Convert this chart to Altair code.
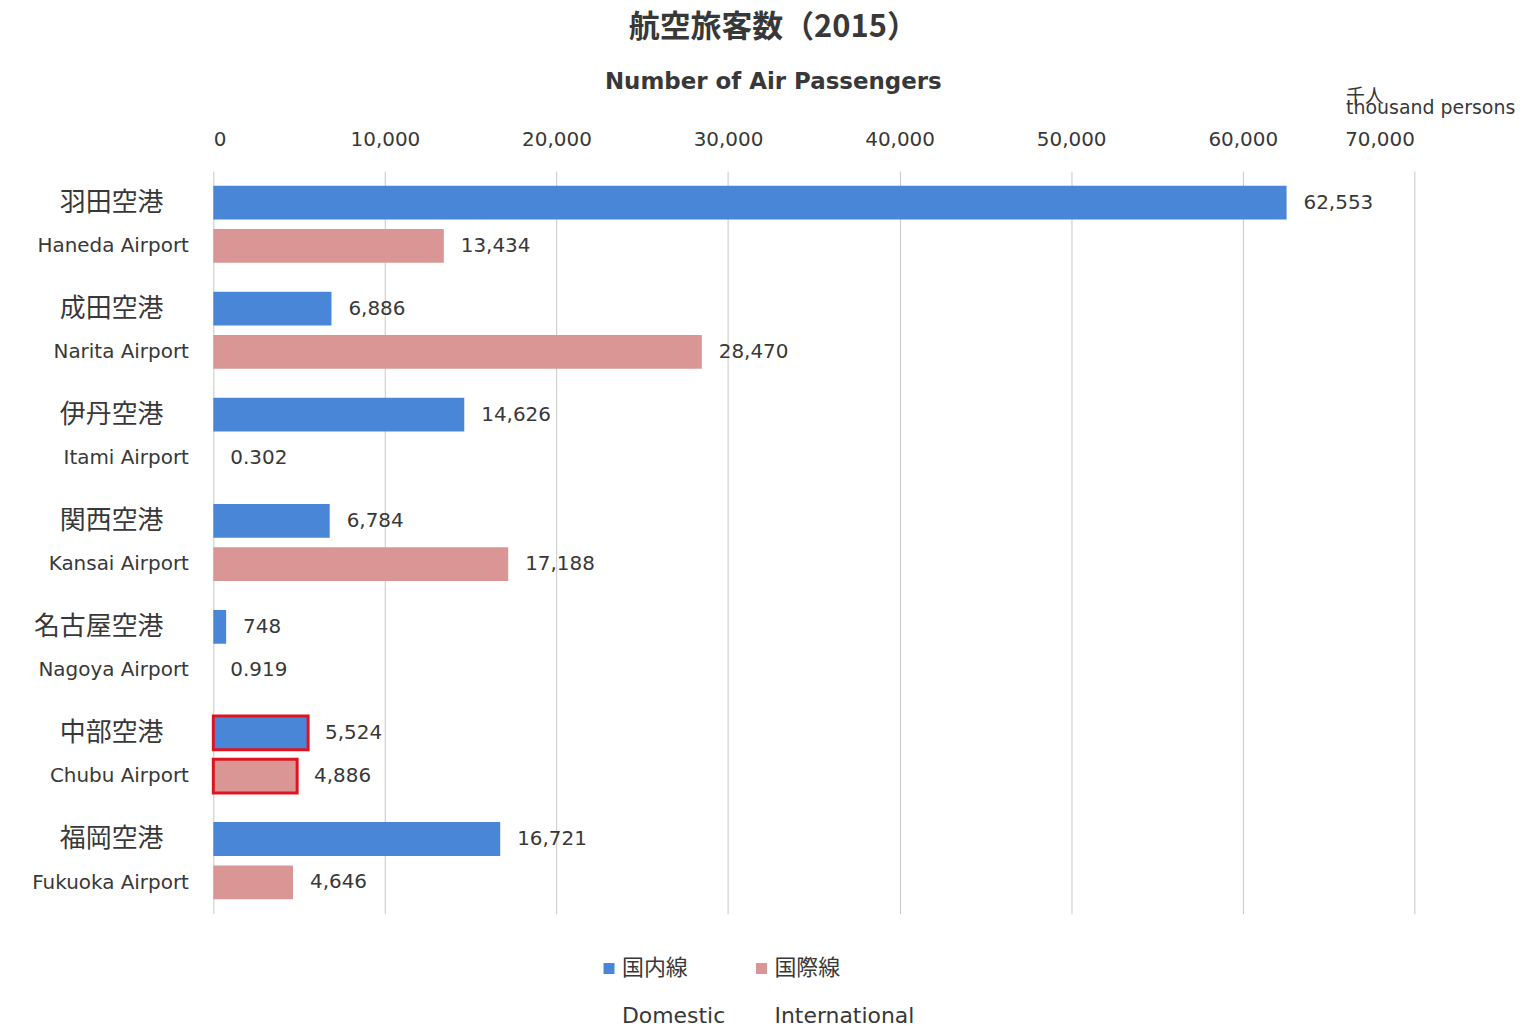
import altair as alt
import pandas as pd

airports_jp = ["羽田空港", "成田空港", "伊丹空港", "関西空港", "名古屋空港", "中部空港", "福岡空港"]
airports_en = ["Haneda Airport", "Narita Airport", "Itami Airport", "Kansai Airport",
               "Nagoya Airport", "Chubu Airport", "Fukuoka Airport"]
domestic = [62553, 6886, 14626, 6784, 748, 5524, 16721]
international = [13434, 28470, 0.302, 17188, 0.919, 4886, 4646]
series_en = ["Domestic", "International"]
series_jp = ["国内線", "国際線"]
series_colors = ["#4A86D8", "#D99694"]
x_ticks = [0, 10000, 20000, 30000, 40000, 50000, 60000, 70000]
highlight = "Chubu Airport"

rows = []
for jp, en, d, i in zip(airports_jp, airports_en, domestic, international):
    rows.append({"jp": jp, "en": en, "series": series_en[0], "value": d})
    rows.append({"jp": jp, "en": en, "series": series_en[1], "value": i})
df = pd.DataFrame(rows)

FONT = "'DejaVu Sans', 'Noto Sans CJK JP', sans-serif"
JFONT = "'Noto Sans CJK JP', sans-serif"
TXT = "#383838"

y_enc = alt.Y("en:N", sort=airports_en,
              scale=alt.Scale(paddingInner=0.2, paddingOuter=0.1),
              axis=alt.Axis(title=None, ticks=False, domain=False, grid=False,
                            labelAlign="right", labelPadding=25, labelOffset=22,
                            labelFontSize=20, labelFont=FONT, labelColor=TXT))
yoff_enc = alt.YOffset("series:N", sort=series_en,
                       scale=alt.Scale(paddingInner=0.22, paddingOuter=0.09))
x_enc = alt.X("value:Q", scale=alt.Scale(domain=[0, 70000]),
              axis=alt.Axis(orient="top", values=x_ticks, format=",.0f", ticks=False,
                            domain=False, grid=True, gridColor="#C8C8C8",
                            labelFontSize=20, labelFont=FONT, labelColor=TXT,
                            labelPadding=22,
                            title=["千人", "thousand persons"], titleFont=FONT,
                            titleFontSize=19, titleFontWeight="normal", titleColor=TXT,
                            titleAlign="left", titleBaseline="top", titleLineHeight=11,
                            titleX=1136, titleY=-84))

ZW = "\u200b"
legend_expr = ("datum.label == '%s' ? ['%s', '%s', '%s'] : ['%s', '%s', '%s']"
               % (series_en[0], series_jp[0], ZW, series_en[0],
                  series_jp[1], ZW, series_en[1]))

color_enc = alt.Color("series:N", sort=series_en,
                      scale=alt.Scale(domain=series_en, range=series_colors),
                      legend=alt.Legend(title=None, orient="none", direction="horizontal",
                                        legendX=386, legendY=789,
                                        symbolType="square", symbolSize=121,
                                        symbolStrokeWidth=0,
                                        labelExpr=legend_expr, labelFont=FONT,
                                        labelFontSize=22,
                                        labelBaseline="middle", labelColor=TXT,
                                        columnPadding=25, labelOffset=2))

base = alt.Chart(df)

bars = base.mark_bar(stroke="#E0141E").encode(
    y=y_enc, yOffset=yoff_enc, x=x_enc, color=color_enc,
    strokeWidth=alt.condition(alt.datum.en == highlight, alt.value(3), alt.value(0)),
)

values_text = base.transform_calculate(
    label="format(datum.value, ',')"
).mark_text(align="left", baseline="middle", dx=17, fontSize=20, font=FONT, color=TXT).encode(
    y=alt.Y("en:N", sort=airports_en), yOffset=alt.YOffset("series:N", sort=series_en),
    x="value:Q", text="label:N",
)

jp_labels = base.transform_filter(alt.datum.series == series_en[0]).mark_text(
    align="right", baseline="middle", fontSize=26, font=JFONT, color=TXT
).encode(
    y=alt.Y("en:N", sort=airports_en), yOffset=alt.YOffset("series:N", sort=series_en),
    x=alt.value(-50), text="jp:N",
)

chart = alt.layer(bars, values_text, jp_labels).properties(
    width=1205, height=745,
    title=alt.Title(text="航空旅客数（2015）", subtitle="Number of Air Passengers",
                    font=JFONT, fontSize=31, fontWeight="bold", color=TXT,
                    subtitleFont=FONT, subtitleFontSize=23, subtitleFontWeight="bold",
                    subtitleColor=TXT, subtitlePadding=28, anchor="middle", frame="bounds",
                    offset=-8),
    padding={"left": 23, "top": 2, "right": 5, "bottom": 0},
).configure(background="white").configure_view(stroke="transparent", strokeWidth=0)

chart.save("out.html", embed_options={"renderer": "svg", "actions": False})
